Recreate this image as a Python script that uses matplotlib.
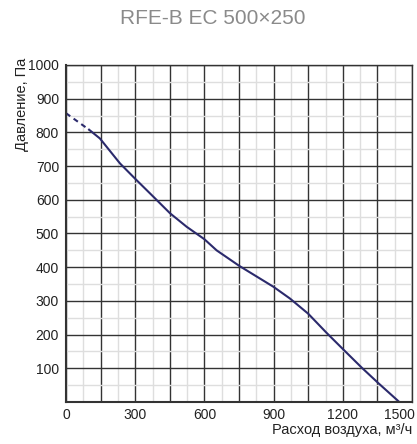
import matplotlib
matplotlib.use("Agg")
import matplotlib.pyplot as plt
from matplotlib.ticker import MultipleLocator
from matplotlib.transforms import ScaledTranslation

title = "RFE-B EC 500×250"
xlabel = "Расход воздуха, м³/ч"
ylabel = "Давление, Па"

dash_x = [0, 100]
dash_y = [857, 808]
flow = [100, 147, 234, 299, 379, 451, 523, 600, 653, 751, 899, 971, 1050, 1130, 1202, 1282, 1354, 1445]
pressure = [808, 782, 708, 663, 609, 560, 520, 483, 450, 404, 342, 307, 262, 205, 156, 102, 56, 0]
xticks = [0, 300, 600, 900, 1200, 1500]
yticks = [100, 200, 300, 400, 500, 600, 700, 800, 900, 1000]

plt.rcParams['font.family'] = ['Liberation Sans', 'DejaVu Sans']

fig = plt.figure(figsize=(4.17, 4.44), dpi=100)
ax = fig.add_axes([66/417, 42/444, (412-66)/417, (402-65)/444])

ax.set_xlim(0, 1500)
ax.set_ylim(0, 1000)
ax.xaxis.set_minor_locator(MultipleLocator(75))
ax.yaxis.set_major_locator(MultipleLocator(100))
ax.yaxis.set_minor_locator(MultipleLocator(50))
ax.grid(which='minor', color='#dedede', linewidth=1.0)
ax.grid(which='major', color='#333333', linewidth=1.0)
ax.set_axisbelow(True)
ax.tick_params(which='both', length=0)

ax.set_yticks(yticks)
ax.set_yticklabels([str(v) for v in yticks])
major_x = list(range(0, 1501, 150))
ax.set_xticks(major_x)
ax.set_xticklabels([str(v) if v in xticks else '' for v in major_x])
ax.tick_params(axis='y', labelsize=10, colors='#222222', pad=5)
ax.tick_params(axis='x', labelsize=10, colors='#222222', pad=4)

labs = ax.get_xticklabels()
labs[-1].set_ha('right')
labs[-1].set_transform(labs[-1].get_transform() + ScaledTranslation(3/100, 0, fig.dpi_scale_trans))

for s in ax.spines.values():
    s.set_color('#333333')
    s.set_linewidth(1.0)
ax.spines['left'].set_linewidth(1.5)
ax.spines['bottom'].set_linewidth(1.5)

ax.plot(dash_x, dash_y, color='#2b2a6c', linewidth=1.5, linestyle=(0, (2.5, 2)))
ax.plot(flow, pressure, color='#2b2a6c', linewidth=1.5)

fig.text(412/417, 1 - 434/444, xlabel, ha='right', va='baseline', fontsize=10.5, color='#222222')
fig.text(22/417, 1 - 58/444, ylabel, ha='center', va='top', rotation=90, fontsize=10.5, color='#222222')
fig.text(213/417, 1 - 18/444, title, ha='center', va='center', fontsize=15, color='#8a8a8a')

fig.savefig("out.png", dpi=100)
